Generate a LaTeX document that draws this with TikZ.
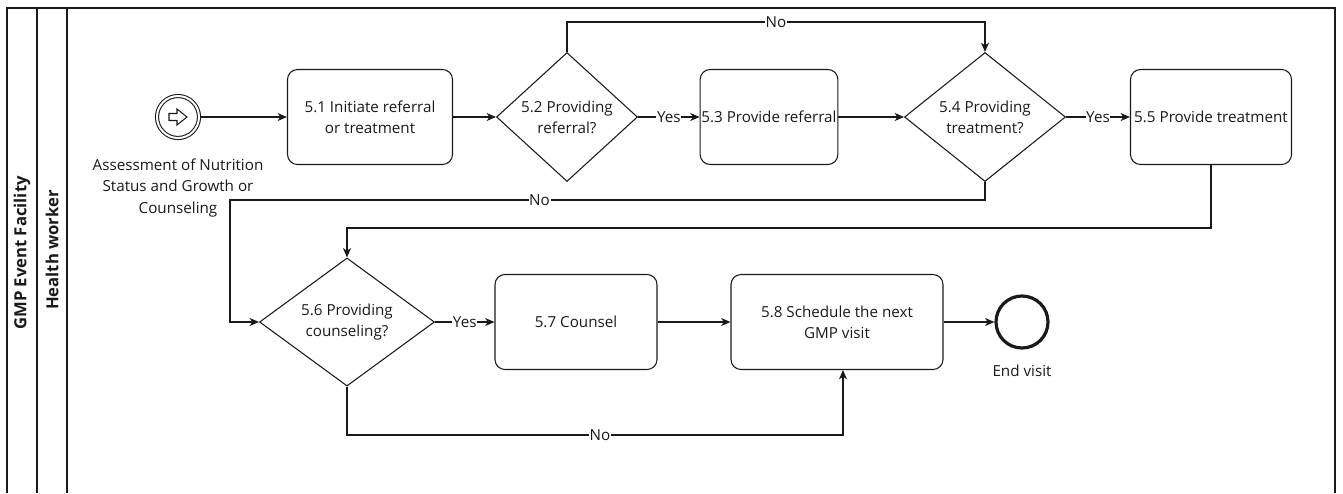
\documentclass[tikz,border=0pt]{standalone}
\usepackage{fontspec}
\setmainfont{Open Sans}
\usetikzlibrary{shapes.geometric,arrows.meta}
\definecolor{ink}{HTML}{1A1A1A}
\begin{document}
\begin{tikzpicture}[x=0.75pt,y=-0.75pt,line width=0.8pt,draw=ink,text=ink,
  font=\fontsize{11.4}{16}\selectfont,
  task/.style={draw,rounded corners=7.5pt,align=center,inner sep=1pt,minimum height=95*0.75pt},
  gate/.style={draw,diamond,align=center,inner sep=0pt},
  flow/.style={-{Stealth[length=7pt,width=6pt,inset=2pt]}},
  lbl/.style={fill=white,inner sep=0.5pt},
  lanetext/.style={rotate=90,font=\fontsize{12.5}{14}\selectfont\bfseries}]
\useasboundingbox (0,0) rectangle (1343,493);
% pool and lane
\draw (7,493) -- (7,8) -- (1335,8) -- (1335,493);
\draw (37,8) -- (37,493);
\draw (67,8) -- (67,493);
\node[lanetext] (pool) at (22,253) {GMP Event Facility};
\node[lanetext] (lane) at (52,250) {Health worker};
% start event
\node[draw,circle,minimum size=42*0.75pt,inner sep=0pt,double,double distance=1.5pt] (start) at (178,117) {};
\draw[line width=0.8pt] (169,113.5) -- (177,113.5) -- (177,109) -- (187,117) -- (177,125) -- (177,120.5) -- (169,120.5) -- cycle;
\node[align=center,anchor=north] (startlbl) at (178,154) {Assessment of Nutrition\\Status and Growth or\\Counseling};
% tasks and gateways
\node[task,minimum width=165*0.75pt] (t51) at (370,117) {5.1 Initiate referral\\or treatment};
\node[gate,minimum width=141*0.75pt,minimum height=129*0.75pt] (g52) at (567,117) {5.2 Providing\\referral?};
\node[task,minimum width=136*0.75pt] (t53) at (769,117) {5.3 Provide referral};
\node[gate,minimum width=161*0.75pt,minimum height=129*0.75pt] (g54) at (985,117) {5.4 Providing\\treatment?};
\node[task,minimum width=161*0.75pt] (t55) at (1211,117) {5.5 Provide treatment};
\node[gate,minimum width=175*0.75pt,minimum height=128*0.75pt] (g56) at (347,322) {5.6 Providing\\counseling?};
\node[task,minimum width=162*0.75pt] (t57) at (576,322) {5.7 Counsel};
\node[task,minimum width=212*0.75pt] (t58) at (837,322) {5.8 Schedule the next\\GMP visit};
\node[draw,circle,line width=2.4pt,minimum size=52*0.75pt,inner sep=0pt] (end) at (1022,322) {};
\node[anchor=north] (endlbl) at (1022,360) {End visit};
% connectors
\draw[flow] (start) -- (t51);
\draw[flow] (t51) -- (g52);
\draw[flow] (g52) -- node[lbl]{Yes} (t53);
\draw[flow] (t53) -- (g54);
\draw[flow] (g54) -- node[lbl]{Yes} (t55);
\coordinate (c1) at (567,22);
\coordinate (c2) at (985,22);
\draw[flow] (g52.north) -- (c1) -- node[lbl]{No} (c2) -- (g54.north);
\coordinate (c3) at (985,200);
\coordinate (c4) at (230,200);
\coordinate (c5) at (230,322);
\draw[flow] (g54.south) -- (c3) -- node[lbl,pos=0.59]{No} (c4) -- (c5) -- (g56.west);
\coordinate (c6) at (1211,228);
\coordinate (c7) at (347,228);
\draw[flow] (t55.south) -- (c6) -- (c7) -- (g56.north);
\draw[flow] (g56) -- node[lbl]{Yes} (t57);
\draw[flow] (t57) -- (t58);
\coordinate (c8) at (347,435);
\coordinate (c9) at (843,435);
\draw[flow] (g56.south) -- (c8) -- node[lbl,pos=0.51]{No} (c9) -- (c9 |- t58.south);
\draw[flow] (t58) -- (end);
\end{tikzpicture}
\end{document}
